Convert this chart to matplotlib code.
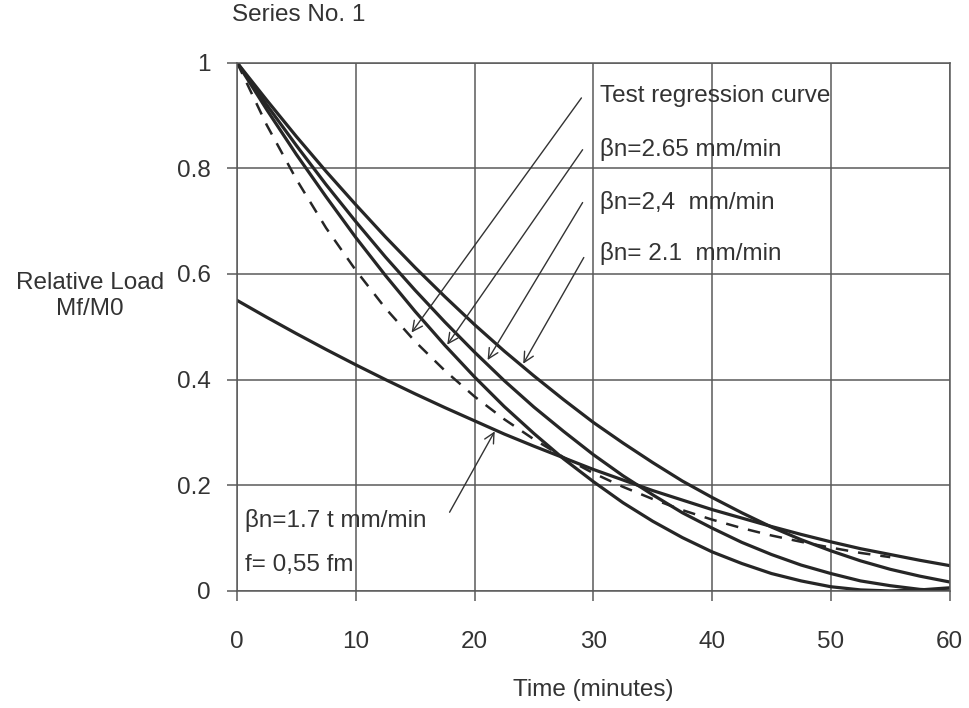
import matplotlib
matplotlib.use("Agg")
import matplotlib.pyplot as plt

plt.rcParams['font.family'] = ['Liberation Sans', 'DejaVu Sans']

# time axis (minutes)
t = [0, 2.5, 5, 7.5, 10, 12.5, 15, 17.5, 20, 22.5, 25, 27.5, 30,
     32.5, 35, 37.5, 40, 42.5, 45, 47.5, 50, 52.5, 55, 57.5, 60]

# relative load Mf/M0
bn_265 = [1.000, 0.911, 0.826, 0.746, 0.669, 0.597, 0.529, 0.465, 0.405,
          0.349, 0.298, 0.250, 0.207, 0.167, 0.132, 0.101, 0.074, 0.052,
          0.033, 0.019, 0.008, 0.002, 0.000, 0.002, 0.006]
bn_24 = [1.000, 0.920, 0.843, 0.769, 0.699, 0.632, 0.569, 0.509, 0.452,
         0.398, 0.348, 0.302, 0.258, 0.218, 0.182, 0.148, 0.119, 0.092,
         0.069, 0.049, 0.033, 0.019, 0.010, 0.003, 0.000]
bn_21 = [1.000, 0.929, 0.860, 0.794, 0.731, 0.670, 0.612, 0.557, 0.504,
         0.454, 0.407, 0.362, 0.319, 0.280, 0.243, 0.208, 0.177, 0.148,
         0.121, 0.097, 0.076, 0.057, 0.041, 0.028, 0.017]
bn_17t = [0.550, 0.518, 0.487, 0.457, 0.428, 0.400, 0.373, 0.347, 0.322,
          0.297, 0.274, 0.252, 0.230, 0.210, 0.190, 0.172, 0.154, 0.138,
          0.122, 0.107, 0.093, 0.080, 0.069, 0.058, 0.048]
# test regression curve (dashed), ends around 55 min
test_t = t[:23]
test_curve = [1.000, 0.882, 0.779, 0.687, 0.607, 0.535, 0.472, 0.417, 0.368,
              0.325, 0.287, 0.253, 0.223, 0.197, 0.174, 0.153, 0.135, 0.119,
              0.105, 0.093, 0.082, 0.072, 0.064]

x_ticks = [0, 10, 20, 30, 40, 50, 60]
y_ticks = [0, 0.2, 0.4, 0.6, 0.8, 1.0]
y_labels = ['0', '0.2', '0.4', '0.6', '0.8', '1']

ink = '#262626'
txt = '#333333'
grid = '#5a5a5a'

fig = plt.figure(figsize=(9.7, 7.08), dpi=100)
ax = fig.add_axes([0.2443, 0.1653, 0.7347, 0.7464])

ax.plot(t, bn_265, color=ink, lw=2.3, solid_capstyle='round')
ax.plot(t, bn_24, color=ink, lw=2.3, solid_capstyle='round')
ax.plot(t, bn_21, color=ink, lw=2.3, solid_capstyle='round')
ax.plot(t, bn_17t, color=ink, lw=2.3, solid_capstyle='round')
ax.plot(test_t, test_curve, color=ink, lw=1.8, dashes=(5, 4))

ax.set_xlim(0, 60)
ax.set_ylim(0, 1)
ax.set_xticks(x_ticks)
ax.set_yticks(y_ticks)
ax.set_yticklabels(y_labels)
ax.grid(True, color=grid, lw=1.1)
for s in ax.spines.values():
    s.set_color(grid)
    s.set_linewidth(1.1)
ax.tick_params(axis='both', colors=grid, labelcolor=txt, labelsize=17.5,
               length=7, width=1.1)
ax.tick_params(axis='x', pad=22)
ax.tick_params(axis='y', pad=12)

# annotations
fs = 17.5
ax.text(30.6, 0.937, 'Test regression curve', fontsize=fs, color=txt, va='center')
ax.text(30.6, 0.835, 'βn=2.65 mm/min', fontsize=fs, color=txt, va='center')
ax.text(30.6, 0.735, 'βn=2,4  mm/min', fontsize=fs, color=txt, va='center')
ax.text(30.6, 0.638, 'βn= 2.1  mm/min', fontsize=fs, color=txt, va='center')
ax.text(0.7, 0.133, 'βn=1.7 t mm/min', fontsize=fs, color=txt, va='center')
ax.text(0.7, 0.050, 'f= 0,55 fm', fontsize=fs, color=txt, va='center')

arrow = dict(arrowstyle='->', color=txt, lw=1.0, mutation_scale=18,
             shrinkA=0, shrinkB=0)
ax.annotate('', xy=(14.7, 0.489), xytext=(29.0, 0.933), arrowprops=arrow)
ax.annotate('', xy=(17.7, 0.466), xytext=(29.1, 0.835), arrowprops=arrow)
ax.annotate('', xy=(21.1, 0.437), xytext=(29.1, 0.735), arrowprops=arrow)
ax.annotate('', xy=(24.1, 0.430), xytext=(29.2, 0.631), arrowprops=arrow)
ax.annotate('', xy=(21.7, 0.302), xytext=(17.9, 0.149), arrowprops=arrow)

fig.text(232 / 970, 1 - 15 / 708, 'Series No. 1', fontsize=fs, color=txt,
         ha='left', va='center')
fig.text(90 / 970, 1 - 296 / 708, 'Relative Load\nMf/M0', fontsize=fs,
         color=txt, ha='center', va='center', linespacing=1.25)
fig.text(593 / 970, 1 - 690 / 708, 'Time (minutes)', fontsize=fs, color=txt,
         ha='center', va='center')

fig.savefig('out.png', dpi=100)
